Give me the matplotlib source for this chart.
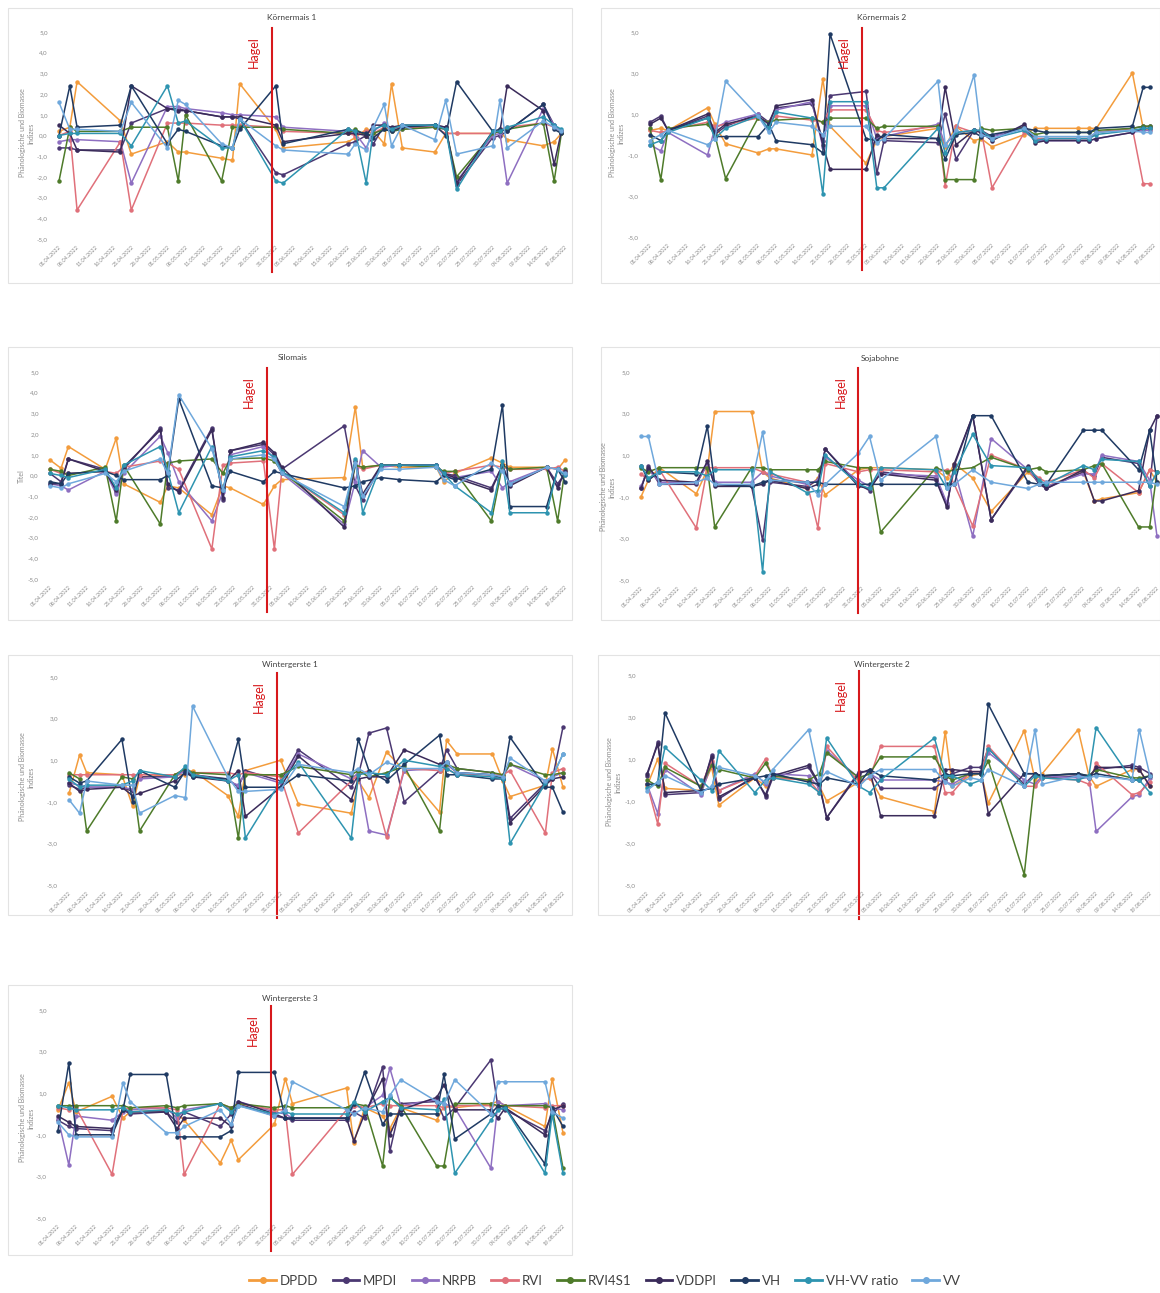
import datetime as dt
import matplotlib
matplotlib.use("Agg")
import matplotlib.pyplot as plt
from matplotlib.patches import Rectangle
from matplotlib.lines import Line2D

plt.rcParams['font.family'] = ['Lato', 'DejaVu Sans']

# ---------------------------------------------------------------- data
SERIES = ["DPDD", "MPDI", "NRPB", "RVI", "RVI4S1", "VDDPI", "VH", "VH-VV ratio", "VV"]
COLORS = ["#F39C3C", "#4B3872", "#8E6FC1", "#E0707A", "#4E7B2A",
          "#3A2B5A", "#1F3A63", "#2E94B0", "#6FA8DC"]

START_DATE = dt.date(2022, 4, 1)   # first day of the date axis
AXIS_DAYS = 140                    # axis length in days
LABEL_STEP = 5                     # one date label every 5 days
HAIL_DAY = 59                      # day of the hail event

# Körnermais 1
KM1_DAYS = [0, 3, 5, 17, 20, 30, 33, 35, 45, 48, 50, 60, 62, 80, 82, 85, 87, 90, 92, 95,
            104, 107, 110, 120, 122, 124, 134, 137, 139]
KM1 = {
    "DPDD": [0.2, 0.4, 2.6, 0.7, -0.9, -0.3, -0.8, -0.8, -1.1, -1.2, 2.5, 0.3, -0.6, -0.3, -0.1, 0.3, 0.2, -0.4, 2.5, -0.6, -0.8, 0.1, 0.1, 0.1, 0.2, -0.2, -0.5, -0.3, 0.1],
    "MPDI": [-0.6, -0.6, -0.7, -0.7, 0.6, 1.3, 1.3, 1.2, 0.9, 0.9, 0.8, -1.8, -1.9, -0.4, -0.3, 0.0, -0.4, 0.5, 0.3, 0.4, 0.5, 0.4, -2.4, -0.1, 0.0, 0.2, 1.5, 0.5, 0.1],
    "NRPB": [-0.3, -0.2, -0.2, -0.3, -2.3, 1.4, 1.4, 1.3, 1.1, 1.0, 1.0, 0.9, 0.4, 0.2, 0.1, -0.6, 0.2, 0.6, 0.2, 0.3, 0.4, 0.3, -2.2, 0.0, 0.1, -2.3, 1.3, 0.5, 0.2],
    "RVI": [0.0, 0.2, -3.6, -0.3, -3.6, 0.6, 0.6, 0.6, 0.5, 0.5, 0.5, 0.4, 0.2, 0.1, 0.0, 0.2, 0.1, 0.4, 0.3, 0.4, 0.4, 0.1, 0.1, 0.1, 0.3, 0.4, 0.6, 0.4, 0.2],
    "RVI4S1": [-2.2, 0.4, 0.2, 0.2, 0.4, 0.4, -2.2, 1.0, -2.2, 0.4, 0.4, 0.4, 0.3, 0.1, 0.3, 0.0, 0.1, 0.3, 0.2, 0.3, 0.4, 0.3, -2.0, 0.1, 0.2, 0.3, 0.6, -2.2, 0.1],
    "VDDPI": [0.5, 0.1, -0.7, -0.8, 2.4, 1.3, 1.2, 1.2, 0.9, 0.9, 0.9, 0.5, -0.3, 0.1, 0.1, 0.0, 0.5, 0.5, 0.4, 0.5, 0.5, 0.4, -2.3, 0.2, 0.2, 2.4, 1.2, -1.4, 0.2],
    "VH": [0.0, 2.4, 0.4, 0.5, 2.4, -0.4, 0.3, 0.2, -0.5, -0.6, 0.3, 2.4, -0.4, 0.3, 0.2, 0.1, -0.1, 0.3, 0.2, 0.4, 0.5, 0.0, 2.6, 0.2, 0.3, 0.2, 1.5, 0.3, 0.1],
    "VH-VV ratio": [0.0, 0.1, 0.1, 0.1, -0.5, 2.4, 0.6, 0.7, -0.6, -0.6, 0.8, -2.2, -2.3, 0.3, 0.2, -2.3, 0.3, 0.5, 0.3, 0.5, 0.5, 0.3, -2.6, 0.2, 0.2, 0.4, 0.9, 0.5, 0.3],
    "VV": [1.6, 0.3, 0.3, 0.2, 1.6, -0.6, 1.7, 1.5, -0.4, -0.6, 0.8, -0.5, -0.7, -0.9, -0.4, -0.7, 0.4, 1.5, -0.5, 0.5, -0.2, 1.7, -0.9, -0.5, 1.7, -0.6, 0.7, 0.4, 0.2],
}

# Körnermais 2
KM2_DAYS = [0, 3, 5, 16, 18, 21, 30, 33, 35, 45, 48, 50, 60, 63, 65, 80, 82, 85, 90, 92,
            95, 104, 107, 110, 119, 122, 124, 134, 137, 139]
KM2 = {
    "DPDD": [0.2, 0.3, 0.2, 1.3, 0.5, -0.45, -0.9, -0.7, -0.7, -1.0, 2.7, 0.4, -1.4, -0.3, -0.1, 0.3, -0.6, 0.4, -0.3, -0.2, -0.6, 0.0, 0.3, 0.3, 0.3, 0.3, 0.3, 3.0, 0.3, 0.2],
    "MPDI": [0.6, 0.9, 0.2, 0.9, 0.0, 0.4, 1.0, 0.6, 1.3, 1.5, -0.3, 1.9, 2.1, -1.9, -0.3, -0.4, 1.0, -1.2, 0.2, 0.2, -0.1, 0.4, -0.2, -0.2, -0.2, -0.2, 0.1, 0.3, 0.4, 0.4],
    "NRPB": [-0.5, -0.8, 0.1, -1.0, 0.3, 0.6, 1.0, 0.2, 1.2, 1.6, -0.6, 1.4, 1.4, -0.2, -0.1, 0.5, -0.5, 0.1, 0.2, 0.1, -0.1, 0.3, -0.3, -0.3, -0.3, -0.3, -0.2, 0.1, 0.2, 0.2],
    "RVI": [0.2, 0.1, 0.2, 0.6, 0.4, 0.5, 0.8, 0.6, 0.9, 0.7, 0.6, 1.2, 1.2, 0.2, 0.1, 0.4, -2.5, 0.4, 0.1, 0.2, -2.6, 0.1, -0.2, -0.2, -0.2, -0.2, 0.1, 0.3, -2.4, -2.4],
    "RVI4S1": [0.3, -2.2, 0.3, 0.5, 0.0, -2.15, 0.8, 0.6, 0.7, 0.8, 0.6, 0.8, 0.8, 0.3, 0.4, 0.4, -2.2, -2.2, -2.2, 0.3, 0.2, 0.3, 0.0, 0.1, 0.1, 0.1, 0.2, 0.3, 0.4, 0.4],
    "VDDPI": [0.5, 0.8, 0.2, 1.0, 0.1, 0.5, 0.9, 0.5, 1.4, 1.7, -0.5, -1.7, -1.7, 0.0, -0.2, -0.2, 2.3, -0.5, 0.2, 0.1, -0.3, 0.5, -0.4, -0.3, -0.3, -0.3, -0.2, 0.1, 0.3, 0.3],
    "VH": [0.0, -0.3, 0.2, 0.8, -0.1, -0.1, -0.1, 0.5, -0.3, -0.5, -0.9, 4.9, -0.2, -0.3, 0.0, -0.2, -1.2, 0.0, 0.1, -0.1, 0.0, 0.3, 0.2, 0.1, 0.1, 0.1, 0.3, 0.4, 2.3, 2.3],
    "VH-VV ratio": [-0.5, -0.3, 0.1, 0.8, -0.2, 0.3, 0.9, 0.3, 1.1, 0.8, -2.9, 1.6, 1.6, -2.6, -2.6, 0.3, -0.9, 0.1, 0.2, 0.2, -0.2, 0.2, -0.3, -0.2, -0.2, -0.2, 0.0, 0.2, 0.3, 0.3],
    "VV": [-0.3, 0.0, 0.2, -0.5, -0.2, 2.6, 0.9, 0.1, 0.6, 0.4, 0.0, 0.4, 0.4, -0.4, -0.2, 2.6, -0.5, 0.2, 2.9, 0.0, -0.2, 0.3, -0.1, -0.1, -0.1, -0.1, 0.1, 0.2, 0.1, 0.1],
}

# Silomais
SM_DAYS = [0, 3, 5, 15, 18, 20, 30, 32, 35, 44, 47, 49, 58, 61, 63, 80, 83, 85, 90, 95,
           105, 107, 110, 120, 123, 125, 135, 138, 140]
SM = {
    "DPDD": [0.75, 0.35, 1.4, 0.3, 1.8, -0.4, -1.3, -0.5, -0.6, -1.9, -0.5, -0.6, -1.4, -0.5, -0.2, -0.1, 3.3, 0.4, 0.5, 0.4, 0.4, -0.3, 0.1, 0.85, 0.6, 0.4, 0.4, 0.3, 0.75],
    "MPDI": [0.1, -0.3, 0.8, 0.3, -0.8, 0.3, 2.3, -0.6, -0.7, 2.3, -1.2, 1.2, 1.5, 1.0, 0.3, 2.4, -0.5, -1.2, 0.5, 0.5, 0.5, 0.1, 0.0, -0.6, 0.5, -0.4, 0.4, -0.4, 0.1],
    "NRPB": [-0.4, -0.5, -0.7, 0.2, -0.9, 0.1, 1.9, 1.1, -0.3, -2.2, -0.8, 1.0, 1.4, 0.8, 0.1, -2.35, -0.3, 1.2, 0.4, 0.5, 0.5, 0.0, -0.1, 0.2, -0.6, -0.3, 0.4, 0.3, 0.0],
    "RVI": [0.3, 0.1, 0.1, 0.2, 0.1, 0.4, 0.7, 0.6, 0.3, -3.55, 0.5, 0.6, 0.7, -3.55, 0.2, -1.9, 0.5, 0.3, 0.5, 0.5, 0.4, 0.1, 0.2, 0.5, 0.4, 0.3, 0.3, 0.4, 0.2],
    "RVI4S1": [0.3, 0.2, 0.0, 0.4, -2.2, 0.5, -2.35, 0.6, 0.7, 0.8, 0.1, 0.8, 0.85, 0.7, 0.2, -2.2, 0.5, 0.4, 0.5, 0.5, 0.4, 0.2, 0.2, -2.2, 0.5, 0.3, 0.4, -2.2, 0.3],
    "VDDPI": [-0.4, -0.4, 0.8, 0.2, -0.7, 0.4, 2.2, -0.4, -0.8, 2.2, -1.1, 1.2, 1.6, 1.1, 0.4, -2.5, 0.7, -0.9, 0.5, 0.5, 0.5, 0.1, -0.1, -0.7, 0.5, -0.5, 0.4, -0.6, 0.2],
    "VH": [-0.3, -0.4, 0.1, 0.2, 0.0, -0.2, -0.2, 0.0, 3.7, -0.5, -0.6, 0.2, -0.3, 0.2, 0.1, -0.6, -0.5, -0.3, -0.1, -0.2, -0.3, 0.0, -0.2, 0.3, 3.4, -1.5, -1.5, 0.3, -0.3],
    "VH-VV ratio": [0.1, 0.0, -0.1, 0.3, -0.6, 0.5, 1.4, 0.2, -1.8, 1.4, -0.7, 0.9, 1.2, 0.9, 0.2, -1.8, 0.8, -1.8, 0.5, 0.5, 0.5, 0.1, -0.5, -1.8, 0.7, -1.8, -1.8, 0.3, 0.0],
    "VV": [-0.5, -0.6, -0.4, 0.1, -0.3, 0.2, 0.8, 0.1, 3.9, 1.3, -0.7, 0.8, 1.0, 0.8, 0.1, -1.5, 0.6, -1.0, 0.3, 0.3, 0.4, -0.2, -0.5, 0.6, 0.2, -0.4, 0.4, 0.3, 0.1],
}

# Sojabohne
SB_DAYS = [0, 2, 5, 15, 18, 20, 30, 33, 35, 45, 48, 50, 59, 62, 65, 80, 83, 85, 90, 95,
           105, 108, 110, 120, 123, 125, 135, 138, 140]
SB = {
    "DPDD": [-1.0, -0.2, 0.4, -0.85, 0.3, 3.1, 3.1, 0.2, -0.1, -0.6, -0.1, -0.9, 0.3, 0.4, 0.4, 0.3, -0.1, 0.6, -0.1, -1.7, 0.2, -0.3, -0.5, 0.2, -1.2, -1.1, -0.8, 0.3, -0.3],
    "MPDI": [-0.6, 0.5, -0.4, -0.4, 0.6, -0.4, -0.5, -3.1, -0.3, -0.5, -0.2, 1.3, -0.4, -0.7, 0.2, -0.1, -1.4, 0.5, 2.9, -2.1, 0.4, -0.4, -0.6, 0.2, 0.0, 0.9, 0.6, -0.5, 2.9],
    "NRPB": [-0.5, 0.3, -0.3, -0.3, 0.5, -0.3, -0.3, 0.2, 0.0, -0.4, -0.2, 0.9, -0.2, -0.5, 0.1, 0.0, -1.3, 0.3, -2.9, 1.8, 0.3, -0.3, -0.5, 0.1, 0.1, 1.0, 0.7, -0.2, -2.9],
    "RVI": [0.1, -0.2, 0.3, -2.5, 0.4, 0.4, 0.4, 0.2, 0.1, -0.3, -2.5, 0.6, 0.2, 0.3, 0.3, 0.2, 0.3, -0.4, -2.4, 1.0, 0.3, -0.1, -0.3, 0.3, -0.1, 0.6, -0.8, 0.3, 0.2],
    "RVI4S1": [0.4, 0.2, 0.4, 0.4, 0.4, -2.45, 0.4, 0.4, 0.3, 0.3, 0.3, 0.7, 0.4, 0.4, -2.7, 0.4, 0.2, 0.3, 0.4, 0.9, 0.3, 0.4, 0.2, 0.3, 0.5, 0.6, -2.45, -2.45, 0.2],
    "VDDPI": [-0.6, 0.4, -0.2, -0.3, 0.7, -0.5, -0.5, -0.4, -0.2, -0.6, -0.4, 1.3, -0.5, -0.6, 0.1, -0.2, -1.5, 0.6, 2.9, -2.1, 0.5, -0.3, -0.6, 0.3, -1.2, -1.2, -0.7, 2.2, 2.9],
    "VH": [0.5, -0.2, 0.2, 0.1, 2.4, -0.4, -0.5, -0.3, -0.2, -0.3, -0.3, -0.4, -0.4, -0.4, -0.4, -0.4, -0.4, -0.4, 2.9, 2.9, -0.3, -0.4, -0.4, 2.2, 2.2, 2.2, 0.3, 2.2, -0.3],
    "VH-VV ratio": [0.5, -0.1, 0.2, 0.2, 0.0, 0.3, 0.3, -4.6, 0.2, -0.8, -0.7, 1.0, -0.4, -0.6, 0.4, 0.3, -0.6, 0.2, 2.0, 0.5, 0.4, -0.2, -0.4, 0.5, 0.3, 0.8, 0.7, -0.5, 0.2],
    "VV": [1.9, 1.9, -0.4, -0.3, -0.1, -0.4, -0.4, 2.1, -0.2, -0.3, -0.9, -0.4, 1.1, 1.9, -0.2, 1.9, -0.6, -0.4, 0.3, -0.3, -0.6, -0.4, -0.3, -0.3, -0.3, -0.3, -0.3, -0.3, -0.4],
}

# Wintergerste 1
WG1_DAYS = [0, 3, 5, 15, 18, 20, 30, 33, 35, 45, 48, 50, 60, 65, 80, 82, 85, 90, 95,
            105, 107, 110, 120, 123, 125, 135, 137, 140]
WG1 = {
    "DPDD": [-0.6, 1.25, 0.4, 0.3, -1.2, 0.2, 0.3, 0.3, 0.5, -0.7, -1.7, 0.5, 1.0, -1.1, -1.55, 0.0, -0.8, 1.4, 0.5, -1.5, 1.95, 1.3, 1.3, 0.0, -0.75, -0.2, 1.55, -0.3],
    "MPDI": [-0.2, -0.4, -0.3, -0.3, -0.5, 0.2, 0.2, 0.6, 0.3, 0.1, -0.3, 0.5, 0.0, 1.5, -0.3, 0.3, 2.3, 2.55, -1.0, 0.5, 1.5, 0.6, 0.4, 0.2, -1.8, -0.1, 0.1, 2.6],
    "NRPB": [-0.1, -0.2, -0.3, -0.3, -0.4, 0.1, 0.2, 0.5, 0.3, 0.0, -0.2, 0.4, -0.1, 1.3, 0.1, 0.4, -2.4, -2.6, 0.5, 0.6, 0.8, 0.4, 0.3, 0.2, 0.8, 0.0, 0.2, 0.4],
    "RVI": [0.3, 0.3, 0.3, 0.3, 0.3, 0.3, 0.3, 0.6, 0.4, 0.4, 0.3, 0.4, 0.2, -2.5, 0.0, 0.3, 0.5, -2.7, 0.6, 0.5, 0.6, 0.3, 0.3, 0.3, 0.5, -2.5, 0.4, 0.6],
    "RVI4S1": [0.4, 0.1, -2.4, 0.2, 0.1, -2.4, 0.3, 0.6, 0.4, 0.3, -2.75, 0.3, 0.3, 0.7, 0.3, 0.5, 0.2, 0.4, 0.7, -2.4, 0.8, 0.6, 0.4, 0.3, 0.8, 0.3, 0.3, 0.4],
    "VDDPI": [-0.1, -0.5, -0.4, -0.3, -0.7, -0.6, 0.0, 0.4, 0.2, 0.0, 0.5, -1.7, -0.3, 1.2, -0.9, 0.1, 0.2, 0.2, 1.5, 0.8, 0.9, 0.4, 0.3, 0.1, -2.0, -0.2, 0.1, 0.2],
    "VH": [0.2, -0.1, 0.0, 2.0, -1.0, 0.5, -0.3, 0.5, 0.2, 0.1, 2.0, -0.3, -0.3, 0.3, 0.0, 2.0, 0.5, 0.0, 0.8, 2.2, 0.3, 0.3, 0.1, 0.1, 2.1, -0.3, -0.3, -1.5],
    "VH-VV ratio": [0.1, -0.3, -0.2, -0.2, 0.0, 0.5, 0.2, 0.7, 0.3, 0.0, 0.3, -2.75, 0.0, 0.9, -2.75, 0.3, 0.4, 0.3, 1.0, 0.7, 0.6, 0.3, 0.2, 0.1, -3.0, -0.1, 0.2, 1.3],
    "VV": [-0.9, -1.55, 0.0, -0.2, -0.2, -1.55, -0.7, -0.8, 3.6, 0.2, -0.5, -0.5, -0.4, 0.8, 0.4, 0.6, 0.3, 0.9, 0.6, 0.6, 0.9, 0.4, 0.3, 0.2, 1.1, 0.0, 0.2, 1.3],
}

# Wintergerste 2
WG2_DAYS = [0, 3, 5, 15, 18, 20, 30, 33, 35, 45, 48, 50, 59, 62, 65, 80, 83, 85, 90, 93,
            95, 105, 108, 110, 120, 123, 125, 135, 137, 140]
WG2 = {
    "DPDD": [-0.3, 1.0, -0.4, -0.5, 0.6, -1.2, 0.1, -0.3, 0.1, 0.0, -0.3, -1.0, -0.1, 0.1, -0.8, -1.5, 2.3, -0.3, 0.2, 0.3, -1.1, 2.35, 0.0, 0.3, 2.4, 0.2, -0.3, 0.5, 0.5, -0.3],
    "MPDI": [0.2, 1.8, -0.7, -0.6, 1.2, -0.9, 0.2, -0.8, 0.1, 0.6, -0.3, -1.8, 0.4, 0.4, -0.4, -0.4, 0.0, 0.3, 0.6, 0.6, 1.5, -0.2, 0.3, 0.1, 0.2, 0.2, 0.5, 0.7, 0.6, 0.3],
    "NRPB": [-0.2, -1.6, 0.5, -0.7, 0.8, -0.5, 0.3, -0.2, 0.3, 0.2, -0.4, 1.4, 0.1, 0.3, 0.0, 0.0, -0.1, -0.2, 0.3, 0.3, 1.3, 0.0, -0.2, 0.2, 0.1, 0.1, -2.45, -0.8, -0.7, 0.1],
    "RVI": [-0.2, -2.1, 0.8, -0.3, 0.9, -0.5, 0.2, 1.0, 0.1, 0.0, -0.6, 1.6, -0.1, 0.1, 1.6, 1.6, -0.6, -0.6, 0.4, 0.4, 1.6, -0.3, -0.3, 0.1, 0.0, -0.2, 0.8, -0.7, -0.6, -0.1],
    "RVI4S1": [0.0, -0.3, 0.6, -0.3, 0.7, 0.5, 0.1, 0.8, 0.2, 0.0, 0.3, 1.3, 0.1, 0.3, 1.1, 1.1, 0.2, 0.0, 0.3, 0.3, 0.9, -4.5, 0.2, 0.2, 0.3, 0.2, 0.5, 0.1, 0.1, 0.2],
    "VDDPI": [0.3, 1.7, -0.6, -0.5, 1.1, -0.8, 0.1, -0.7, 0.2, 0.7, -0.2, -1.8, 0.3, 0.5, -1.7, -1.7, 0.5, 0.5, 0.4, 0.4, -1.6, 0.3, 0.3, 0.2, 0.3, 0.1, 0.6, 0.6, 0.5, -0.3],
    "VH": [-0.2, -0.2, 3.2, -0.5, -0.4, -0.2, 0.1, 0.2, 0.3, -0.1, -0.2, 0.1, -0.2, 0.5, 0.2, 0.0, 0.3, 0.2, 0.3, 0.3, 3.6, 0.3, 0.3, 0.2, 0.3, 0.2, 0.3, 0.0, 0.0, 0.2],
    "VH-VV ratio": [-0.4, -0.1, 1.55, 0.0, -0.5, 1.4, -0.6, 0.0, 0.1, -0.2, -0.6, 2.0, -0.3, -0.6, 0.0, 2.0, 0.2, 0.2, -0.2, 0.0, 1.5, -0.3, 0.2, 0.1, 0.0, 0.2, 2.5, 0.0, 0.0, -0.6],
    "VV": [-0.5, -0.1, 0.2, -0.6, -0.3, 0.6, 0.2, -0.1, 0.5, 2.4, 0.0, 0.4, -0.3, 0.2, 0.5, 0.5, -0.1, -0.3, 0.1, 0.0, 0.5, -0.3, 2.4, -0.2, 0.2, 0.1, 0.2, 0.0, 2.4, 0.2],
}

# Wintergerste 3
WG3_DAYS = [0, 3, 5, 15, 18, 20, 30, 33, 35, 45, 48, 50, 60, 63, 65, 80, 82, 85, 90, 92,
            95, 105, 107, 110, 120, 122, 124, 135, 137, 140]
WG3 = {
    "DPDD": [0.2, 1.5, 0.1, 0.85, -0.2, 0.1, 0.2, 0.0, -0.3, -2.35, -1.25, -2.2, -0.5, 1.7, 0.5, 1.25, -1.4, 0.3, -0.1, -0.7, 0.3, -0.3, 0.4, 0.3, 0.5, 0.6, 0.4, -0.6, 1.7, -0.9],
    "MPDI": [-0.3, -0.6, -0.7, -0.8, 0.2, 0.0, 0.1, -0.4, 0.1, -0.6, 0.0, 0.5, -0.1, -0.2, -0.3, -0.3, 0.1, -0.2, 2.25, -1.8, 0.5, 0.6, -0.2, 0.3, 2.6, 0.3, 0.2, -0.8, 0.0, 0.5],
    "NRPB": [-0.2, -2.45, -0.1, -0.3, 0.1, 0.2, 0.3, -0.2, 0.2, 0.5, 0.2, 0.6, 0.1, 0.0, -0.2, -0.2, 0.4, 0.3, 0.9, 2.2, 0.4, 0.7, 0.5, 0.3, -2.6, 0.6, 0.4, 0.5, 0.3, 0.2],
    "RVI": [0.3, 0.2, 0.3, -2.9, 0.2, 0.3, 0.3, 0.2, -2.9, 0.5, 0.3, 0.5, 0.2, 0.2, -2.9, 0.2, 0.4, 0.3, 0.5, 0.4, 0.4, 0.4, 0.3, 0.4, 0.4, 0.4, 0.4, 0.3, 0.4, 0.4],
    "RVI4S1": [0.4, 0.4, 0.4, 0.4, 0.4, 0.3, 0.4, 0.3, 0.4, 0.5, 0.3, 0.5, 0.3, 0.4, 0.3, 0.3, 0.5, 0.4, -2.5, 0.8, 0.4, -2.5, -2.5, 0.5, 0.5, 0.4, 0.4, 0.4, 0.3, -2.6],
    "VDDPI": [-0.1, -0.4, -0.6, -0.7, 0.2, 0.1, 0.1, -0.7, -0.2, -0.2, -0.6, 0.6, 0.0, -0.2, -0.2, -0.2, -1.3, 0.0, 1.7, -1.0, 0.2, 0.8, 1.4, 0.2, 0.2, -0.2, 0.3, -1.0, 0.2, 0.4],
    "VH": [-0.8, 2.45, -1.0, -1.0, 0.2, 1.9, 1.9, -1.1, -1.1, -1.1, -0.8, 2.0, 2.0, -0.2, -0.2, -0.2, 0.5, 2.0, -0.5, 0.0, 0.0, 0.0, 1.9, -1.2, 0.0, 0.4, 0.3, -2.4, 0.3, -0.6],
    "VH-VV ratio": [0.4, 0.3, 0.2, 0.2, 0.3, 0.1, 0.2, 0.0, 0.1, 0.5, 0.1, 0.4, 0.0, 0.1, 0.0, 0.0, 0.6, 0.1, 0.6, 0.8, 0.3, 0.2, 0.7, -2.85, -0.3, 0.2, 0.3, -2.85, 0.0, -2.85],
    "VV": [-0.4, -1.0, -1.1, -1.1, 1.5, 0.6, -0.9, -0.9, -0.6, 0.2, -0.5, 0.4, -0.1, 0.2, 1.55, 0.2, 0.0, 0.3, 0.1, 0.9, 1.65, 0.6, 0.5, 1.65, 0.0, 1.55, 1.55, 1.55, 0.1, -0.2],
}

Y_TICKS_FINE = [5, 4, 3, 2, 1, 0, -1, -2, -3, -4, -5]
Y_TICKS_COARSE = [5, 3, 1, -1, -3, -5]
YLABEL = "Phänologische und Biomasse\nIndizes"

# ---------------------------------------------------------------- layout (pixels)
W, H = 1160, 1293
fig = plt.figure(figsize=(W / 100, H / 100), dpi=100)
fig.patch.set_facecolor("white")

PANELS = [
    # title, days, data, y ticks, y label, plot box (x0, x1, y0, y1), frame box, title xy, ylabel xy
    ("Körnermais 1", KM1_DAYS, KM1, Y_TICKS_FINE, YLABEL, (59, 565, 32, 239), (8, 8, 572, 283), (292, 18), (27, 133)),
    ("Körnermais 2", KM2_DAYS, KM2, Y_TICKS_COARSE, YLABEL, (650, 1154, 32, 237), (601, 8, 1160, 283), (882, 18), (617, 133)),
    ("Silomais", SM_DAYS, SM, Y_TICKS_FINE, "Titel", (50, 565, 372, 579), (8, 347, 572, 620), (293, 358), (21, 476)),
    ("Sojabohne", SB_DAYS, SB, Y_TICKS_COARSE, YLABEL, (641, 1157, 372, 580), (601, 347, 1160, 620), (880, 358), (608, 487)),
    ("Wintergerste 1", WG1_DAYS, WG1, Y_TICKS_COARSE, YLABEL, (69, 563, 677, 885), (8, 655, 572, 915), (290, 665), (27, 777)),
    ("Wintergerste 2", WG2_DAYS, WG2, Y_TICKS_COARSE, YLABEL, (647, 1150, 675, 885), (598, 655, 1160, 915), (882, 664), (614, 782)),
    ("Wintergerste 3", WG3_DAYS, WG3, Y_TICKS_COARSE, YLABEL, (58, 563, 1010, 1218), (8, 985, 572, 1255), (290, 998), (27, 1118)),
]

label_days = list(range(0, AXIS_DAYS + 1, LABEL_STEP))
label_text = [(START_DATE + dt.timedelta(days=d)).strftime("%d.%m.%Y") for d in label_days]

GRAY = "#8C8C8C"


def fx(px):
    return px / W


def fy(py):
    return 1 - py / H


for (title, days, data, yticks, ylab, pbox, fbox, txy, lxy) in PANELS:
    # light chart-area frame
    fx0, fy0, fx1, fy1 = fbox
    fig.add_artist(Rectangle((fx(fx0), fy(fy1)), (fx1 - fx0) / W, (fy1 - fy0) / H,
                             transform=fig.transFigure, fill=False,
                             edgecolor="#E3E3E3", linewidth=0.8))

    x0, x1, y0, y1 = pbox
    ax = fig.add_axes([fx(x0), fy(y1), (x1 - x0) / W, (y1 - y0) / H])
    ax.set_xlim(0, AXIS_DAYS)
    ax.set_ylim(-5, 5)
    for s in ax.spines.values():
        s.set_visible(False)
    ax.patch.set_alpha(0)

    for name, color in zip(SERIES, COLORS):
        vals = data[name]
        assert len(vals) == len(days), (title, name, len(vals), len(days))
        ax.plot(days, vals, color=color, lw=1.1, marker="o", ms=2.2,
                mec=color, mfc=color, clip_on=False, zorder=2)

    ax.set_yticks(yticks)
    ax.set_yticklabels([f"{v:.1f}".replace(".", ",") for v in yticks],
                       fontsize=4.5, color=GRAY)
    ax.set_xticks(label_days)
    ax.set_xticklabels(label_text, fontsize=4, color=GRAY, rotation=45,
                       ha="right", rotation_mode="anchor")
    ax.tick_params(axis="both", length=0, pad=4)
    ax.tick_params(axis="y", pad=8)

    # hail event marker
    ax.plot([HAIL_DAY, HAIL_DAY], [5.2, -6.6], color="#D7191C", lw=1.5,
            clip_on=False, zorder=3)
    ax.annotate("Hagel", xy=(HAIL_DAY, 5), xytext=(-13, -3), textcoords="offset points",
                rotation=90, ha="center", va="top", color="#D7191C", fontsize=9)

    fig.text(fx(txy[0]), fy(txy[1]), title, ha="center", va="center",
             fontsize=6, color="#404040")
    fig.text(fx(lxy[0]), fy(lxy[1]), ylab, ha="center", va="center",
             rotation=90, fontsize=5, color=GRAY, multialignment="center")

# shared legend
handles = [Line2D([0], [0], color=c, lw=2, marker="o", ms=4, mfc=c, mec=c)
           for c in COLORS]
fig.legend(handles, SERIES, loc="center", bbox_to_anchor=(fx(605), fy(1281)),
           ncol=len(SERIES), frameon=False, fontsize=9.5, handlelength=2.0,
           handletextpad=0.3, columnspacing=1.1, labelcolor="#404040")

fig.savefig("out.png", dpi=100, facecolor="white")
